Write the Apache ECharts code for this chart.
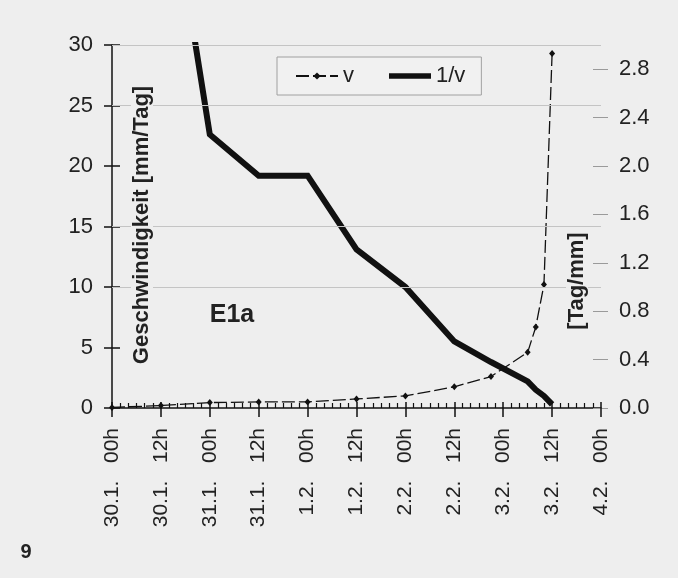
<!DOCTYPE html>
<html>
<head>
<meta charset="utf-8">
<script src="https://cdn.jsdelivr.net/npm/echarts@6/dist/echarts.min.js"></script>
<style>
html,body{margin:0;padding:0;background:#eeeeee;}
#chart{width:678px;height:578px;}
</style>
</head>
<body>
<div id="chart"></div>
<script>
// ---- data (x in hours since 30.1. 00h) ----
var xTickLabels = ['30.1.   00h','30.1.   12h','31.1.   00h','31.1.   12h','1.2.   00h','1.2.   12h','2.2.   00h','2.2.   12h','3.2.   00h','3.2.   12h','4.2.   00h'];
var vHours = [0, 12, 24, 36, 48, 60, 72, 84, 93, 102, 104, 106, 108];
var vValues = [0.05, 0.2, 0.45, 0.5, 0.5, 0.75, 1.0, 1.75, 2.6, 4.6, 6.7, 10.2, 29.3];
var invHours = [12, 24, 36, 48, 60, 72, 84, 93, 102, 104, 106, 108];
var invValues = [4.8, 2.26, 1.92, 1.92, 1.31, 1.0, 0.55, 0.38, 0.22, 0.15, 0.1, 0.03];
var rightTicks = [0.0, 0.4, 0.8, 1.2, 1.6, 2.0, 2.4, 2.8];
var gridValues = [10, 15, 25, 30];

var FONT = '"Liberation Sans", Arial, sans-serif';
var BG = '#eeeeee';
var chart = echarts.init(document.getElementById('chart'));

function pairs(xs, ys){ return xs.map(function(x,i){ return [x, ys[i]]; }); }

var gridBox = {left: 112, right: 77, top: 45, bottom: 170};

var option = {
  backgroundColor: BG,
  animation: false,
  textStyle: {fontFamily: FONT, color: '#222'},
  grid: [gridBox, {left: 112, right: 77, top: 45, bottom: 170}],
  legend: {
    left: 277, top: 57,
    padding: [8, 16, 8, 18],
    borderColor: '#a0a0a0', borderWidth: 1,
    backgroundColor: '#f1f1f1',
    itemWidth: 42, itemHeight: 9, itemGap: 35,
    symbolKeepAspect: true,
    textStyle: {fontSize: 22, color: '#222', fontFamily: FONT, padding: [0,0,0,0]},
    data: [
      {name: 'v'},
      {name: '1/v', icon: 'path://M0,0 L44,0 L44,6 L0,6 Z'}
    ]
  },
  xAxis: [{
    type: 'value', gridIndex: 0, min: 0, max: 120, interval: 12,
    axisLine: {show: true, lineStyle: {color: '#111', width: 1.5}},
    axisTick: {show: true, length: 9, lineStyle: {color: '#111', width: 1.5}},
    minorTick: {show: true, splitNumber: 6, length: -5, lineStyle: {color: '#111', width: 1.2}},
    splitLine: {show: false},
    axisLabel: {
      rotate: 90, margin: 20, fontSize: 21, color: '#222', fontFamily: FONT,
      formatter: function(val){ return xTickLabels[Math.round(val/12)]; }
    }
  },{
    type: 'value', gridIndex: 1, min: 0, max: 120, interval: 12, position: 'bottom',
    axisLine: {show: false},
    axisTick: {show: true, inside: true, length: 6, lineStyle: {color: '#111', width: 1.5}},
    splitLine: {show: false},
    axisLabel: {show: false}
  }],
  yAxis: [{
    type: 'value', gridIndex: 0, min: 0, max: 30, interval: 5, position: 'left',
    axisLine: {show: true, lineStyle: {color: '#111', width: 1.5}},
    axisTick: {show: true, length: 8, lineStyle: {color: '#111', width: 1.5}},
    splitLine: {show: false},
    axisLabel: {margin: 19, fontSize: 22, color: '#222', fontFamily: FONT}
  },{
    type: 'value', gridIndex: 0, min: 0, max: 3, position: 'right',
    axisLine: {show: false},
    axisTick: {show: true, length: 7, customValues: rightTicks, lineStyle: {color: '#9a9a9a', width: 1}},
    splitLine: {show: false},
    axisLabel: {margin: 18, fontSize: 22, color: '#222', fontFamily: FONT, customValues: rightTicks,
      formatter: function(v){ return v.toFixed(1); }}
  },{
    type: 'value', gridIndex: 1, min: 0, max: 30, interval: 5, position: 'left',
    axisLine: {show: false},
    axisTick: {show: true, inside: true, length: 8, lineStyle: {color: '#111', width: 1.5}},
    splitLine: {show: false},
    axisLabel: {show: false}
  },{
    type: 'value', gridIndex: 1, min: 0, max: 3, position: 'right',
    axisLine: {show: false},
    axisTick: {show: true, inside: true, length: 8, customValues: rightTicks, lineStyle: {color: '#9a9a9a', width: 1}},
    splitLine: {show: false},
    axisLabel: {show: false}
  }],
  series: [{
    name: 'grid', type: 'line', data: [], z: 1, silent: true,
    xAxisIndex: 0, yAxisIndex: 0,
    markLine: {
      silent: true, symbol: ['none','none'], label: {show: false},
      lineStyle: {color: '#c4c4c4', width: 1, type: 'solid'},
      data: gridValues.map(function(g){ return {yAxis: g}; })
    }
  },{
    name: 'v', type: 'line', xAxisIndex: 0, yAxisIndex: 0,
    data: pairs(vHours, vValues),
    symbol: 'diamond', symbolSize: [6, 7],
    itemStyle: {color: '#111'},
    lineStyle: {color: '#111', width: 1.3, type: [13, 4]},
    z: 3
  },{
    name: '1/v', type: 'line', xAxisIndex: 0, yAxisIndex: 1,
    data: pairs(invHours, invValues),
    symbol: 'none',
    lineStyle: {color: '#111', width: 6, cap: 'butt', join: 'miter'},
    itemStyle: {color: '#111'},
    z: 2
  }],
  graphic: [{
    type: 'text', x: 142, y: 225, rotation: Math.PI/2, z: 10,
    style: {text: 'Geschwindigkeit [mm/Tag]', font: 'bold 22px ' + FONT, fill: '#222',
      align: 'center', verticalAlign: 'middle', backgroundColor: BG, padding: [0, 3]}
  },{
    type: 'text', x: 577, y: 281, rotation: Math.PI/2, z: 10,
    style: {text: '[Tag/mm]', font: 'bold 22px ' + FONT, fill: '#222',
      align: 'center', verticalAlign: 'middle', backgroundColor: BG, padding: [0, 3]}
  },{
    type: 'text', x: 232, y: 315, z: 10,
    style: {text: 'E1a', font: 'bold 25px ' + FONT, fill: '#222', align: 'center', verticalAlign: 'middle'}
  },{
    type: 'text', x: 26, y: 552, z: 10,
    style: {text: '9', font: 'bold 20px "Liberation Sans Narrow", ' + FONT, fill: '#222', align: 'center', verticalAlign: 'middle'}
  }]
};
chart.setOption(option);
</script>
</body>
</html>
